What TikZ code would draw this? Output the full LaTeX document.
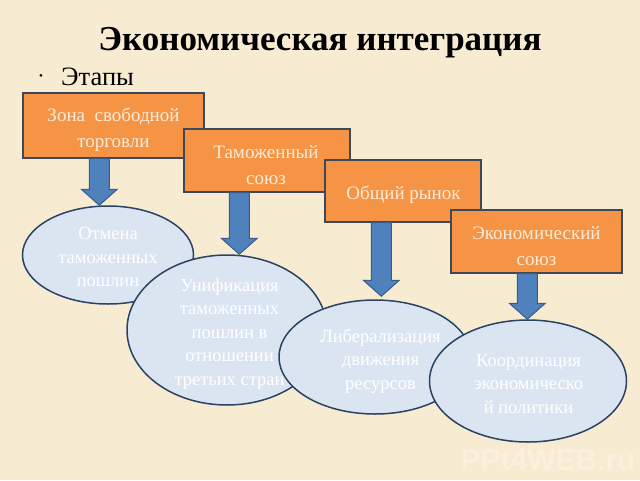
\documentclass[tikz,border=0pt]{standalone}
\usepackage{fontspec}
\setmainfont{Liberation Serif}
\setsansfont{Liberation Sans}
\usetikzlibrary{calc,shapes.geometric}
\definecolor{bg}{RGB}{247,236,210}
\definecolor{boxfill}{RGB}{245,148,68}
\definecolor{boxline}{RGB}{62,72,88}
\definecolor{boxtxt}{RGB}{253,236,218}
\definecolor{ellfill}{RGB}{219,229,241}
\definecolor{ellline}{RGB}{42,66,100}
\definecolor{arrfill}{RGB}{79,129,189}
\definecolor{arrline}{RGB}{56,93,138}
\newcommand\blockarr[2]{%
  \draw[blockarrow] let \p1=(#1), \p2=(#2) in
    (\x1-10pt,\y1) -- (\x1-10pt,\y2+16pt) -- (\x1-18pt,\y2+16pt) -- (\x1,\y2)
    -- (\x1+18pt,\y2+16pt) -- (\x1+10pt,\y2+16pt) -- (\x1+10pt,\y1) -- cycle;}
\begin{document}
\begin{tikzpicture}[x=1pt,y=-1pt,
  stagebox/.style={draw=boxline, line width=1.4pt, fill=boxfill, rectangle, inner sep=0pt},
  boxtext/.style={text=boxtxt, align=center, font=\fontsize{19}{26}\selectfont, inner sep=0pt},
  result/.style={ellipse, draw=ellline, line width=1.5pt, fill=ellfill, inner sep=0pt},
  elltext/.style={text=white, align=center, font=\fontsize{18.5}{23.5}\selectfont, inner sep=0pt},
  blockarrow/.style={draw=arrline, fill=arrfill, line width=1pt, line join=miter}]
\fill[bg] (0,0) rectangle (640,480);
\useasboundingbox (0,0) rectangle (640,480);
% title
\node[font=\bfseries\fontsize{35}{38}\selectfont, anchor=base, inner sep=0pt] (title) at (320,50) {Экономическая интеграция};
\node[font=\fontsize{11}{14}\selectfont, anchor=center] (bullet) at (41,77) {•};
\node[font=\fontsize{26.5}{30}\selectfont, anchor=base west, inner sep=0pt] (etapy) at (61,85) {Этапы};
% boxes
\node[stagebox, minimum width=181pt, minimum height=65pt] (b1) at (113.5,125.5) {};
\node[boxtext] (t1) at (113.5,130) {Зона\ \ свободной\\торговли};
\node[stagebox, minimum width=166pt, minimum height=63pt] (b2) at (267,160.5) {};
\node[boxtext] (t2) at (266,165.5) {Таможенный\\союз};
\node[stagebox, minimum width=156pt, minimum height=62pt] (b3) at (403,191) {};
\node[boxtext] (t3) at (403.5,195) {Общий рынок};
\node[stagebox, minimum width=171pt, minimum height=63pt] (b4) at (536.5,241.5) {};
\node[boxtext] (t4) at (536.5,246.5) {Экономический\\союз};
% ellipses
\node[result, minimum width=171pt, minimum height=98pt] (e1) at (108,255) {};
\node[elltext] (r1) at (108,257) {Отмена\\таможенных\\пошлин};
\node[result, minimum width=200pt, minimum height=150pt] (e2) at (227,330) {};
\node[elltext] (r2) at (229.5,334) {Унификация\\таможенных\\пошлин в\\отношении\\третьих стран};
\node[result, minimum width=192pt, minimum height=114pt] (e3) at (375,357) {};
\node[elltext] (r3) at (380.5,361) {Либерализация\\движения\\ресурсов};
\node[result, minimum width=197pt, minimum height=122pt] (e4) at (528,381) {};
\node[elltext] (r4) at (528.5,384) {Координация\\экономическо\\й политики};
% arrows
\coordinate (a1s) at ($(b1.south west)+(77,0)$);
\coordinate (a2s) at ($(b2.south west)+(56,0)$);
\coordinate (a3s) at ($(b3.south west)+(57,0)$);
\coordinate (a4s) at ($(b4.south west)+(77,0)$);
\coordinate (a1e) at (a1s |- e1.north);
\coordinate (a2e) at (a2s |- e2.north);
\coordinate (a3e) at ($(a3s |- e3.north)+(0,-3)$);
\coordinate (a4e) at (a4s |- e4.north);
\blockarr{a1s}{a1e}
\blockarr{a2s}{a2e}
\blockarr{a3s}{a3e}
\blockarr{a4s}{a4e}
% watermark
\node[font=\sffamily\bfseries\fontsize{30}{32}\selectfont, text=white, opacity=0.25] (wm) at (548,460) {PPt4WEB.ru};
\end{tikzpicture}
\end{document}
